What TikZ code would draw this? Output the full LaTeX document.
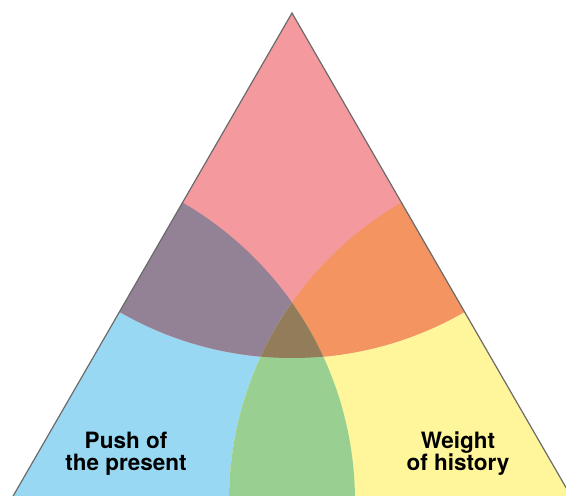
\documentclass[tikz,border=0pt]{standalone}
\usepackage{fontspec}
\setmainfont{TeX Gyre Heros}
\usepackage{xcolor}
\usepackage{tikz}
\definecolor{pastred}{RGB}{244,153,158}
\definecolor{pushblue}{RGB}{153,216,242}
\definecolor{weightyellow}{RGB}{255,245,154}
\definecolor{mixpurple}{RGB}{147,129,149}
\definecolor{mixorange}{RGB}{243,148,97}
\definecolor{mixgreen}{RGB}{153,208,145}
\definecolor{mixcentre}{RGB}{147,124,89}
\tikzset{edge/.style={draw=black!58,line width=1.2pt},
  label/.style={align=center,font=\bfseries\fontsize{22.5}{22}\selectfont}}

\begin{document}
\begin{tikzpicture}[x=1pt,y=-1pt]
\useasboundingbox (0,0) rectangle (566,496);
\coordinate (top) at (292,13);
\coordinate (left) at (10,501.4);
\coordinate (right) at (574,501.4);
\def\rad{345pt}
\begin{scope}
\clip (top) -- (left) -- (right) -- cycle;
\fill[pushblue] (left) circle (\rad);
\fill[weightyellow] (right) circle (\rad);
\fill[pastred] (top) circle (\rad);
% overlaps
\begin{scope}
\clip (top) circle (\rad);
\fill[mixpurple] (left) circle (\rad);
\fill[mixorange] (right) circle (\rad);
\end{scope}
\begin{scope}
\clip (left) circle (\rad);
\fill[mixgreen] (right) circle (\rad);
\clip (right) circle (\rad);
\fill[mixcentre] (top) circle (\rad);
\end{scope}
\end{scope}
\draw[edge] (left) -- (top) -- (right);
\node[label] (push) at (126,454) {Push of\\the present};
\node[label] (weight) at (458,454) {Weight\\of history};
\end{tikzpicture}
\end{document}
